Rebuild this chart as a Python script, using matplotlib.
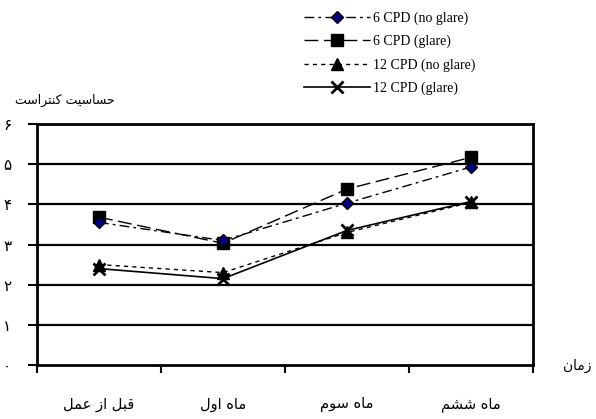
import matplotlib
matplotlib.use("Agg")
import matplotlib.pyplot as plt
from matplotlib.ticker import FixedLocator

# --- data ---
categories = ["قبل از عمل", "ماه اول", "ماه سوم", "ماه ششم"]
cpd6_noglare = [3.55, 3.1, 4.03, 4.93]
cpd6_glare = [3.68, 3.03, 4.38, 5.17]
cpd12_noglare = [2.5, 2.3, 3.3, 4.05]
cpd12_glare = [2.4, 2.15, 3.35, 4.07]
series_names = ["6 CPD (no glare)", "6 CPD (glare)", "12 CPD (no glare)", "12 CPD (glare)"]
y_ticks = [0, 1, 2, 3, 4, 5, 6]
y_title = "حساسیت کنتراست"
x_title = "زمان"

# minimal Persian shaping (matplotlib has no bidi / joining)
FORMS = {
    "ا": ("\uFE8D", "\uFE8E", None, None),
    "ب": ("\uFE8F", "\uFE90", "\uFE91", "\uFE92"),
    "ت": ("\uFE95", "\uFE96", "\uFE97", "\uFE98"),
    "ح": ("\uFEA1", "\uFEA2", "\uFEA3", "\uFEA4"),
    "ر": ("\uFEAD", "\uFEAE", None, None),
    "ز": ("\uFEAF", "\uFEB0", None, None),
    "س": ("\uFEB1", "\uFEB2", "\uFEB3", "\uFEB4"),
    "ش": ("\uFEB5", "\uFEB6", "\uFEB7", "\uFEB8"),
    "ع": ("\uFEC9", "\uFECA", "\uFECB", "\uFECC"),
    "ق": ("\uFED5", "\uFED6", "\uFED7", "\uFED8"),
    "ل": ("\uFEDD", "\uFEDE", "\uFEDF", "\uFEE0"),
    "م": ("\uFEE1", "\uFEE2", "\uFEE3", "\uFEE4"),
    "ن": ("\uFEE5", "\uFEE6", "\uFEE7", "\uFEE8"),
    "ه": ("\uFEE9", "\uFEEA", "\uFEEB", "\uFEEC"),
    "و": ("\uFEED", "\uFEEE", None, None),
    "ک": ("\uFB8E", "\uFB8F", "\uFB90", "\uFB91"),
    "ی": ("\uFBFC", "\uFBFD", "\uFBFE", "\uFBFF"),
}


def shape(s):
    out = []
    for i, ch in enumerate(s):
        if ch not in FORMS:
            out.append(ch)
            continue
        prev = s[i - 1] if i > 0 else " "
        nxt = s[i + 1] if i + 1 < len(s) else " "
        join_prev = prev in FORMS and FORMS[prev][2] is not None
        join_next = nxt in FORMS and FORMS[ch][2] is not None
        iso, fin, ini, med = FORMS[ch]
        if join_prev and join_next:
            out.append(med)
        elif join_prev:
            out.append(fin)
        elif join_next:
            out.append(ini)
        else:
            out.append(iso)
    return "".join(out)[::-1]


def fa_digit(n):
    return chr(0x06F0 + n)


fig = plt.figure(figsize=(5.96, 4.19), dpi=100)
ax = fig.add_axes([37 / 596, 1 - 365 / 419, 496 / 596, 241 / 419])

x = list(range(len(categories)))
ax.plot(x, cpd6_noglare, color="black", lw=1, dashes=(7, 3, 2, 3),
        marker="D", ms=6, mfc="#000080", mec="black", mew=1, label=series_names[0], zorder=4)
ax.plot(x, cpd6_glare, color="black", lw=1, dashes=(10, 4),
        marker="s", ms=9, mfc="black", mec="black", label=series_names[1], zorder=3)
ax.plot(x, cpd12_noglare, color="black", lw=1, dashes=(3, 3),
        marker="^", ms=8, mfc="black", mec="black", label=series_names[2], zorder=3)
ax.plot(x, cpd12_glare, color="black", lw=1.2, marker="x", ms=8, mew=2,
        label=series_names[3], zorder=3)

ax.set_xlim(-0.5, 3.5)
ax.set_ylim(0, 6)
for v in y_ticks[1:-1]:
    ax.axhline(v, color="black", lw=1.6, zorder=1)

ax.set_yticks(y_ticks)
ax.set_yticklabels([fa_digit(v) for v in y_ticks], fontsize=11, family="DejaVu Sans")
ax.tick_params(axis="y", length=6.5, width=1.5, pad=12)

ax.xaxis.set_major_locator(FixedLocator([-0.5, 0.5, 1.5, 2.5, 3.5]))
ax.set_xticklabels([])
ax.tick_params(axis="x", which="major", length=6, width=1.5)
ax.set_xticks(x, minor=True)
ax.set_xticklabels([shape(c) for c in categories], minor=True, fontsize=10.5, family="DejaVu Sans")
ax.tick_params(axis="x", which="minor", length=0, pad=23)

for sp in ax.spines.values():
    sp.set_linewidth(2)
    sp.set_color("black")

fig.text(115 / 596, 1 - 100 / 419, shape(y_title), ha="right", va="center",
         fontsize=9, family="DejaVu Sans")
fig.text(591 / 596, 1 - 366 / 419, shape(x_title), ha="right", va="center",
         fontsize=10, family="DejaVu Sans")

fig.legend(loc="upper left", bbox_to_anchor=(291 / 596, 1 + 1 / 419), frameon=False,
           prop={"family": "Liberation Serif", "size": 10},
           handlelength=4.8, handletextpad=0.2, labelspacing=0.72)

fig.savefig("out.png", dpi=100)
